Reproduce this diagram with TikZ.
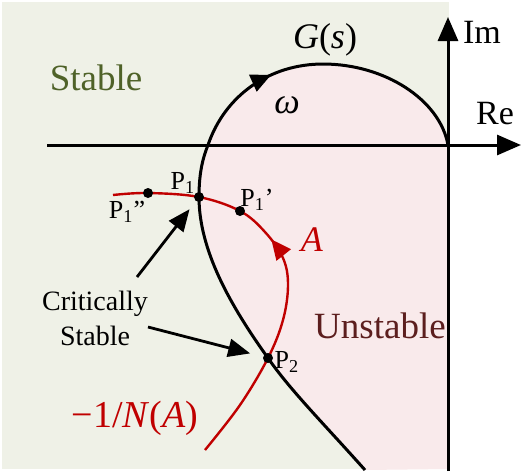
\documentclass[tikz,border=0pt]{standalone}
\usepackage{fontspec}
\setmainfont{Liberation Serif}
\usetikzlibrary{arrows.meta,decorations.markings,positioning}

\definecolor{stablebg}{HTML}{EFF1E7}
\definecolor{unstablebg}{HTML}{F9EAEB}
\definecolor{stabletext}{HTML}{4F6228}
\definecolor{unstabletext}{HTML}{5C1E1E}
\definecolor{nyqred}{HTML}{C00000}

\begin{document}
\begin{tikzpicture}[x=0.5pt, y=-0.5pt,
    axis/.style={line width=1.5pt, -{Triangle[length=12pt,width=10pt]}},
    annot/.style={line width=1.4pt, -{Triangle[length=11pt,width=9pt]}},
    dot/.style={circle, fill=black, inner sep=0pt, minimum size=5pt},
    plabel/.style={font=\fontsize{13}{15}\selectfont, inner sep=0pt},
    midarrow/.style={postaction={decorate}, decoration={markings,
        mark=at position #1 with {\arrow{Triangle[length=10pt,width=9pt]}}}}]
    \useasboundingbox (0,0) rectangle (526,473);

    % Regions
    \def\gcurve{(365,470) .. controls (325,425) and (290,390) .. (268,358)
        .. controls (230,305) and (199,250) .. (199,197)
        .. controls (199,175) and (202,160) .. (208,145)
        .. controls (225,95) and (270,64) .. (323,64)
        .. controls (385,64) and (440,100) .. (448,145)}
    \fill[stablebg] (2,2) rectangle (449,469);
    \fill[unstablebg] \gcurve -- (448,469) -- cycle;

    % Axes
    \coordinate (origin) at (448,145);
    \draw[axis] (47,145) -- (521,145);
    \draw[axis] (448,471) -- (448,17);
    \node [font=\fontsize{17}{20}\selectfont, inner sep=0pt] (im) at (482,32) {Im};
    \node [font=\fontsize{17}{20}\selectfont, inner sep=0pt] (re) at (495,114) {Re};

    % Nyquist plot G(s)
    \draw[line width=1.5pt, midarrow=0.69] \gcurve;
    \node [font=\fontsize{18}{20}\selectfont, inner sep=0pt] (gs) at (325,40) {\textit{G}(\textit{s})};
    \node [font=\fontsize{18}{20}\selectfont, inner sep=0pt] (omega) at (287,105) {\textit{ω}};

    % Describing function locus -1/N(A)
    \draw[nyqred, line width=1.2pt, midarrow=0.58] plot[smooth, tension=0.6] coordinates {(205,450) (240,405) (268,358) (283,320) (288,285) (283,258) (265,232) (240,211) (199,197) (148,193) (113,195)};
    \node [nyqred, font=\fontsize{18}{20}\selectfont, inner sep=0pt] (alabel) at (312,240) {\textit{A}};
    \node [nyqred, font=\fontsize{19}{22}\selectfont, inner sep=0pt] (nalabel) at (135,418) {−1/\textit{N}(\textit{A})};

    % Intersection points
    \node [dot] (p1) at (199,197) {};
    \node [dot] (p1pp) at (148,193) {};
    \node [dot] (p1p) at (240,211) {};
    \node [dot] (p2) at (268,358) {};
    \node [plabel] at ([xshift=-8pt, yshift=7pt]p1) {P\textsubscript{1}};
    \node [plabel] at ([xshift=-10.5pt, yshift=-9.5pt]p1pp) {P\textsubscript{1}\symbol{34}};
    \node [plabel] at ([xshift=8.5pt, yshift=5.5pt]p1p) {P\textsubscript{1}\symbol{39}};
    \node [plabel] at ([xshift=9.5pt, yshift=-2pt]p2) {P\textsubscript{2}};

    % Region labels
    \node [stabletext, font=\fontsize{18.5}{20}\selectfont, inner sep=0pt] (stable) at (96,78) {Stable};
    \node [unstabletext, font=\fontsize{18.5}{20}\selectfont, inner sep=0pt] (unstable) at (380,326) {Unstable};

    % Critically stable annotation
    \node [align=center, font=\fontsize{14}{17.5}\selectfont, inner sep=0pt] (crit) at (95,318) {Critically\\Stable};
    \coordinate (crit1) at (137,277);
    \coordinate (crit2) at (148,327);
    \draw[annot, shorten >=5pt] (crit1) -- (p1);
    \draw[annot, shorten >=6.5pt] (crit2) -- (p2);
\end{tikzpicture}
\end{document}
